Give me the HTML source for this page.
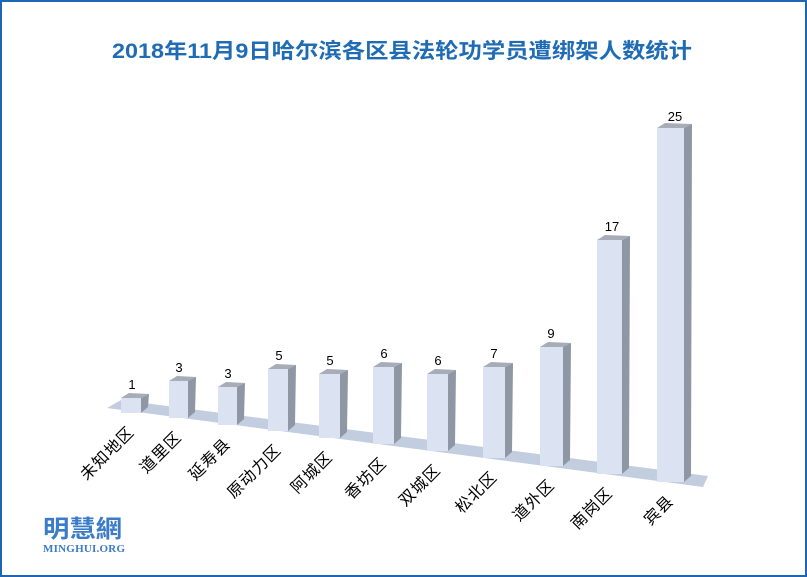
<!DOCTYPE html>
<html><head><meta charset="utf-8"><style>
html,body{margin:0;padding:0;background:#fff}
svg{display:block}
</style></head><body>
<svg width="807" height="577" viewBox="0 0 807 577" xmlns="http://www.w3.org/2000/svg" font-family="Liberation Sans, Noto Sans CJK SC, sans-serif">
<rect x="1" y="1" width="805" height="575" fill="#fff" stroke="#1d66b4" stroke-width="2"/>
<text x="402" y="58" text-anchor="middle" font-size="21" font-weight="bold" fill="#1f6cb5" textLength="580" lengthAdjust="spacingAndGlyphs">2018年11月9日哈尔滨各区县法轮功学员遭绑架人数统计</text>
<polygon points="107,408 121,400 708,476 703,487" fill="#c3cde0"/>
<g>
<polygon points="121,398 129,393 149,394 141,398" fill="#a6acb8"/><polygon points="141,398 149,394 148,407 141,413" fill="#8f97a4"/><rect x="121" y="398" width="20" height="15" fill="#dbe2f2"/>
<polygon points="169,381 177,376 196,377 188,381" fill="#a6acb8"/><polygon points="188,381 196,377 195,412 188,418" fill="#8f97a4"/><rect x="169" y="381" width="19" height="37" fill="#dbe2f2"/>
<polygon points="218,387 226,382 245,383 237,387" fill="#a6acb8"/><polygon points="237,387 245,383 244,419 237,425" fill="#8f97a4"/><rect x="218" y="387" width="19" height="38" fill="#dbe2f2"/>
<polygon points="268,369 276,364 296,365 288,369" fill="#a6acb8"/><polygon points="288,369 296,365 295,425 288,431" fill="#8f97a4"/><rect x="268" y="369" width="20" height="62" fill="#dbe2f2"/>
<polygon points="319,374 327,369 348,370 340,374" fill="#a6acb8"/><polygon points="340,374 348,370 347,432 340,438" fill="#8f97a4"/><rect x="319" y="374" width="21" height="64" fill="#dbe2f2"/>
<polygon points="373,367 381,362 402,363 394,367" fill="#a6acb8"/><polygon points="394,367 402,363 401,438 394,444" fill="#8f97a4"/><rect x="373" y="367" width="21" height="77" fill="#dbe2f2"/>
<polygon points="427,374 435,369 456,370 448,374" fill="#a6acb8"/><polygon points="448,374 456,370 455,445 448,451" fill="#8f97a4"/><rect x="427" y="374" width="21" height="77" fill="#dbe2f2"/>
<polygon points="483,367 491,362 513,363 505,367" fill="#a6acb8"/><polygon points="505,367 513,363 512,452 505,458" fill="#8f97a4"/><rect x="483" y="367" width="22" height="91" fill="#dbe2f2"/>
<polygon points="540,347 548,342 571,343 563,347" fill="#a6acb8"/><polygon points="563,347 571,343 570,460 563,466" fill="#8f97a4"/><rect x="540" y="347" width="23" height="119" fill="#dbe2f2"/>
<polygon points="597,240 605,235 630,236 622,240" fill="#a6acb8"/><polygon points="622,240 630,236 629,468 622,474" fill="#8f97a4"/><rect x="597" y="240" width="25" height="234" fill="#dbe2f2"/>
<polygon points="657,128 665,123 692,124 684,128" fill="#a6acb8"/><polygon points="684,128 692,124 691,476 684,482" fill="#8f97a4"/><rect x="657" y="128" width="27" height="354" fill="#dbe2f2"/>
</g>
<g font-size="13" fill="#000" text-anchor="middle">
<text x="132" y="389">1</text>
<text x="179" y="372">3</text>
<text x="228" y="378">3</text>
<text x="279" y="360">5</text>
<text x="330" y="365">5</text>
<text x="384" y="358">6</text>
<text x="438" y="365">6</text>
<text x="494" y="358">7</text>
<text x="551" y="338">9</text>
<text x="612" y="231">17</text>
<text x="675" y="121">25</text>
</g>
<g font-size="16" letter-spacing="1" fill="#000" text-anchor="end" font-family="Noto Sans CJK SC, sans-serif">
<text x="135" y="433" transform="rotate(-45 135 433)">未知地区</text>
<text x="182.5" y="438" transform="rotate(-45 182.5 438)">道里区</text>
<text x="231.5" y="445" transform="rotate(-45 231.5 445)">延寿县</text>
<text x="282" y="451" transform="rotate(-45 282 451)">原动力区</text>
<text x="333.5" y="458" transform="rotate(-45 333.5 458)">阿城区</text>
<text x="387.5" y="464" transform="rotate(-45 387.5 464)">香坊区</text>
<text x="441.5" y="471" transform="rotate(-45 441.5 471)">双城区</text>
<text x="498" y="478" transform="rotate(-45 498 478)">松北区</text>
<text x="555.5" y="486" transform="rotate(-45 555.5 486)">道外区</text>
<text x="613.5" y="494" transform="rotate(-45 613.5 494)">南岗区</text>
<text x="674.5" y="502" transform="rotate(-45 674.5 502)">宾县</text>
</g>
<text x="43" y="537" font-size="24" font-weight="bold" fill="#3a7cc8" font-family="Noto Sans CJK SC, sans-serif" textLength="79" lengthAdjust="spacingAndGlyphs">明慧網</text>
<text x="43" y="552" font-size="11" font-weight="bold" fill="#3a7cc8" font-family="Liberation Serif, serif" textLength="82">MINGHUI.ORG</text>
</svg>
</body></html>
